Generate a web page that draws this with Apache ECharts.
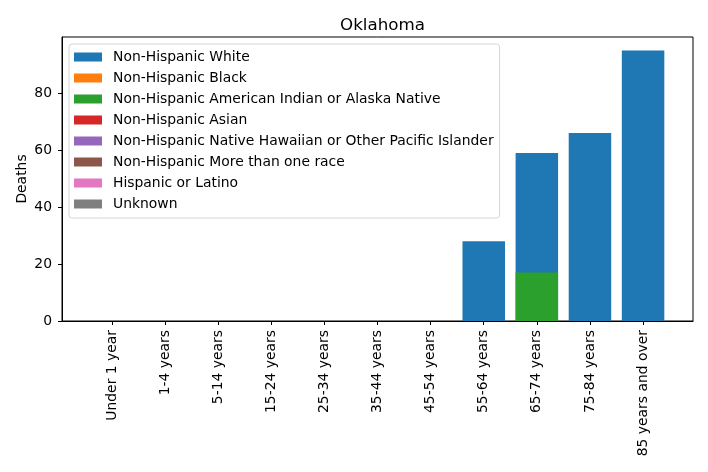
<!DOCTYPE html>
<html>
<head>
<meta charset="utf-8">
<script src="https://cdn.jsdelivr.net/npm/echarts@6/dist/echarts.min.js"></script>
<style>
  html, body { margin: 0; padding: 0; background: #fff; }
  #chart { width: 708px; height: 472px; }
</style>
</head>
<body>
<div id="chart"></div>
<script>
// age groups along the x axis
var ages = ['Under 1 year', '1-4 years', '5-14 years', '15-24 years', '25-34 years',
  '35-44 years', '45-54 years', '55-64 years', '65-74 years', '75-84 years', '85 years and over'];

// deaths per group (bars overlap, drawn in this order)
var white    = [0, 0, 0, 0, 0, 0, 0, 28, 59, 66, 95];
var black    = [0, 0, 0, 0, 0, 0, 0, 0, 0, 0, 0];
var amIndian = [0, 0, 0, 0, 0, 0, 0, 0, 17, 0, 0];
var asian    = [0, 0, 0, 0, 0, 0, 0, 0, 0, 0, 0];
var hawaiian = [0, 0, 0, 0, 0, 0, 0, 0, 0, 0, 0];
var multi    = [0, 0, 0, 0, 0, 0, 0, 0, 0, 0, 0];
var hispanic = [0, 0, 0, 0, 0, 0, 0, 0, 0, 0, 0];
var unknown  = [0, 0, 0, 0, 0, 0, 0, 0, 0, 0, 0];

var yTicks = [0, 20, 40, 60, 80];

var groups = [
  ['Non-Hispanic White', white, '#1f77b4'],
  ['Non-Hispanic Black', black, '#ff7f0e'],
  ['Non-Hispanic American Indian or Alaska Native', amIndian, '#2ca02c'],
  ['Non-Hispanic Asian', asian, '#d62728'],
  ['Non-Hispanic Native Hawaiian or Other Pacific Islander', hawaiian, '#9467bd'],
  ['Non-Hispanic More than one race', multi, '#8c564b'],
  ['Hispanic or Latino', hispanic, '#e377c2'],
  ['Unknown', unknown, '#7f7f7f']
];

var font = 'DejaVu Sans';
var xIdx = ages.map(function (a, i) { return i; });

var series = groups.map(function (g) {
  return {
    name: g[0],
    type: 'bar',
    barWidth: 42.5,
    barGap: '-100%',
    itemStyle: { color: g[2], borderWidth: 0 },
    data: g[1].map(function (v, i) { return [i, v]; })
  };
});

var chart = echarts.init(document.getElementById('chart'));
chart.setOption({
  animation: false,
  title: {
    text: 'Oklahoma',
    left: 377.5, textAlign: 'center', top: 12,
    textStyle: { fontFamily: font, fontSize: 16.7, fontWeight: 'normal', color: '#000' }
  },
  grid: {
    left: 62, top: 37, right: 15, bottom: 151,
    show: true, borderColor: '#000', borderWidth: 1
  },
  legend: {
    orient: 'vertical',
    left: 69, top: 44,
    padding: [6, 6, 7, 5],
    itemGap: 7,
    itemWidth: 28, itemHeight: 9,
    icon: 'rect',
    backgroundColor: '#fff',
    borderColor: '#d6d6d6', borderWidth: 1, borderRadius: 3,
    textStyle: { fontFamily: font, fontSize: 13.9, color: '#000', padding: [0, 0, 0, 6] },
    data: groups.map(function (g) { return g[0]; })
  },
  xAxis: {
    type: 'value',
    min: -0.94, max: 10.94,
    splitLine: { show: false },
    axisLine: { show: true, onZero: false, lineStyle: { color: '#000' } },
    axisTick: { show: true, length: 4, customValues: xIdx, lineStyle: { color: '#000' } },
    axisLabel: {
      customValues: xIdx,
      rotate: 90, margin: 9,
      fontFamily: font, fontSize: 13.9, color: '#000',
      formatter: function (v) { return ages[v]; }
    }
  },
  yAxis: {
    type: 'value',
    min: 0, max: 99.75,
    name: 'Deaths', nameLocation: 'middle', nameGap: 33, nameMoveOverlap: false,
    nameTextStyle: { fontFamily: font, fontSize: 13.9, color: '#000' },
    splitLine: { show: false },
    axisLine: { show: true, onZero: false, lineStyle: { color: '#000' } },
    axisTick: { show: true, length: 4, customValues: yTicks, lineStyle: { color: '#000' } },
    axisLabel: {
      customValues: yTicks,
      margin: 10,
      fontFamily: font, fontSize: 13.9, color: '#000'
    }
  },
  series: series
});
</script>
</body>
</html>
